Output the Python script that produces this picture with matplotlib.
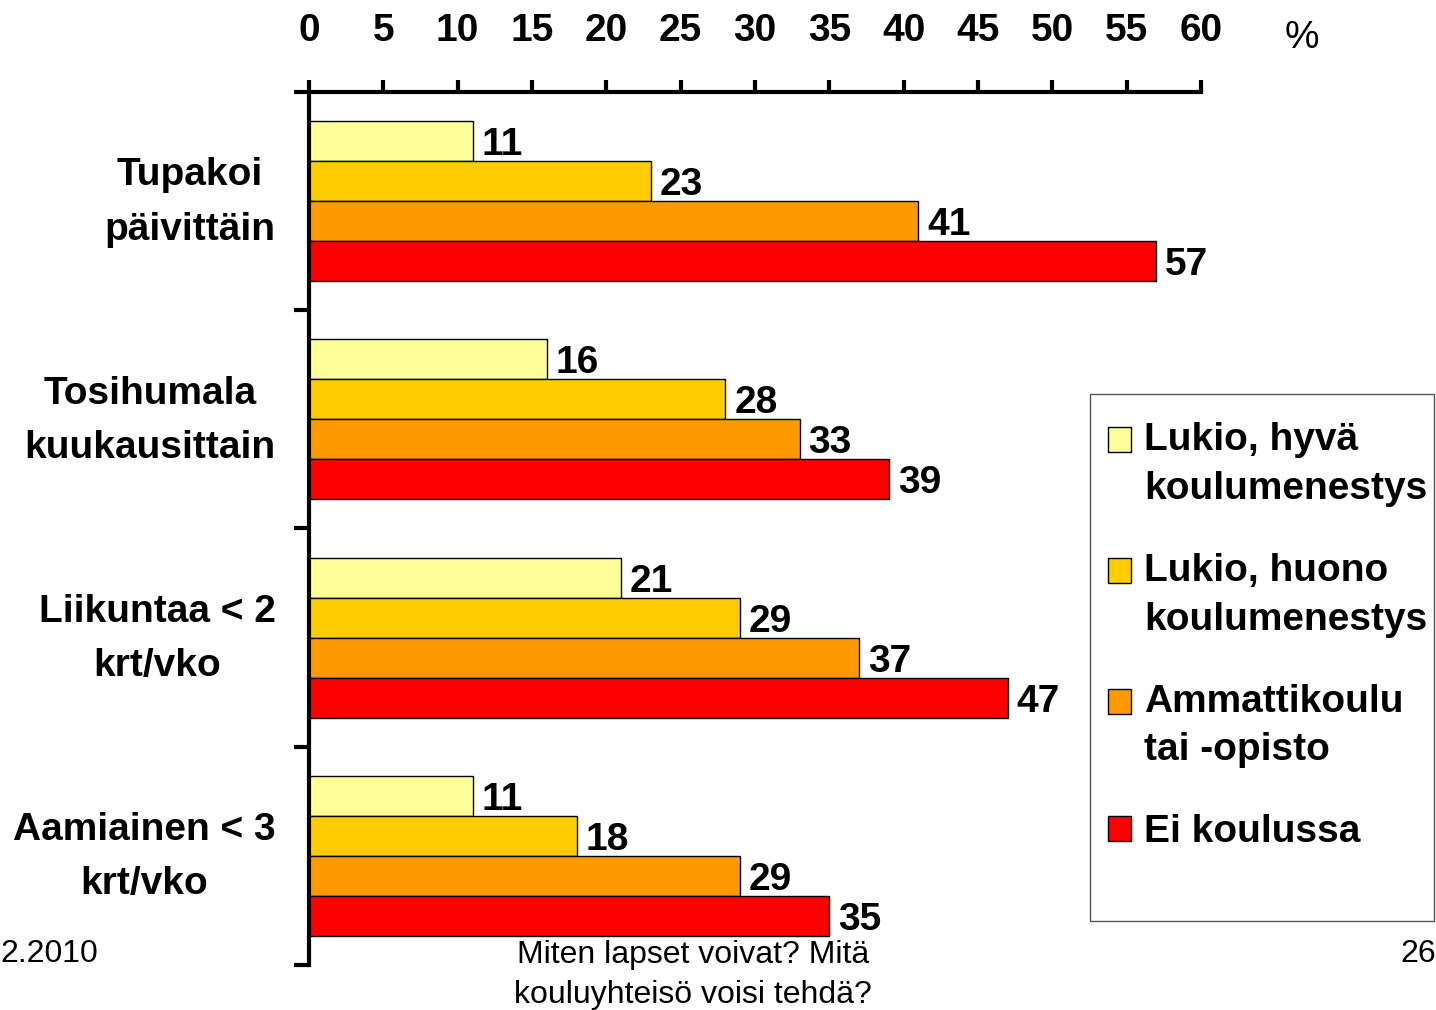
# Horizontal grouped bars: health habits by school track (percent)

import numpy as np
import matplotlib.pyplot as plt
from matplotlib.patches import Rectangle
from matplotlib.legend_handler import HandlerPatch

plt.rcParams['font.family'] = ['Liberation Sans', 'DejaVu Sans']

categories = ['Tupakoi\npäivittäin', 'Tosihumala\nkuukausittain',
              'Liikuntaa < 2\nkrt/vko', 'Aamiainen < 3\nkrt/vko']
series_names = ['Lukio, hyvä\nkoulumenestys', 'Lukio, huono\nkoulumenestys',
                'Ammattikoulu\ntai -opisto', 'Ei koulussa']
lukio_hyva = [11, 16, 21, 11]
lukio_huono = [23, 28, 29, 18]
ammattikoulu = [41, 33, 37, 29]
ei_koulussa = [57, 39, 47, 35]
colors = ['#FFFF99', '#FFCC00', '#FF9900', '#FF0000']
x_ticks = list(range(0, 61, 5))

series = [lukio_hyva, lukio_huono, ammattikoulu, ei_koulussa]

FS = 28

fig = plt.figure(figsize=(14.36, 10.10), dpi=100)
ax = fig.add_axes([0.2152, 0.0446, 0.8363 - 0.2152, 0.9089 - 0.0446])

y = np.arange(len(categories))
h = 0.1835
offsets = (np.arange(4) - 1.5) * h
for vals, off, col in zip(series, offsets, colors):
    ax.barh(y + off, vals, height=h, color=col, edgecolor='black', linewidth=1.0)
    for yy, v in zip(y + off, vals):
        ax.text(v + 0.6, yy, str(v), va='center_baseline', ha='left',
                fontsize=FS, fontweight='bold')

ax.set_xlim(0, 60)
ax.set_ylim(3.5, -0.5)

# x axis on top
ax.xaxis.tick_top()
ax.set_xticks(x_ticks)
ax.set_xticklabels([str(t) for t in x_ticks], fontsize=FS, fontweight='bold')
ax.tick_params(axis='x', direction='out', length=9, width=3, pad=22)

# y ticks at category boundaries, category names in between
ax.set_yticks(np.arange(-0.5, 4, 1.0))
ax.set_yticklabels([])
ax.tick_params(axis='y', which='major', direction='out', length=11, width=3)
for yy, cat in zip(y, categories):
    ax.annotate(cat, xy=(0, yy), xycoords=('axes fraction', 'data'),
                xytext=(-24, -1), textcoords='offset points',
                ha='right', va='center', multialignment='center',
                fontsize=FS, fontweight='bold', linespacing=1.66)

for s in ['right', 'bottom']:
    ax.spines[s].set_visible(False)
for s in ['left', 'top']:
    ax.spines[s].set_linewidth(3)

fig.text(1302 / 1436, 1 - 38 / 1010, '%', fontsize=FS, ha='center', va='center')

# legend: square marker sits next to the first line of each label
def patch_at_first_line(n_lines):
    shift = 18 * (n_lines - 1)
    def f(legend, orig_handle, xdescent, ydescent, width, height, fontsize):
        return Rectangle((-xdescent, -ydescent + shift), width, height)
    return f

proxies = [Rectangle((0, 0), 1, 1, facecolor=c, edgecolor='black', linewidth=1.0)
           for c in colors]
hmap = {p: HandlerPatch(patch_func=patch_at_first_line(name.count('\n') + 1))
        for p, name in zip(proxies, series_names)}

leg = fig.legend(proxies, series_names, handler_map=hmap, loc='upper left',
                 bbox_to_anchor=(1108 / 1436, 1 - 422 / 1010),
                 prop={'size': FS, 'weight': 'bold'}, frameon=False,
                 handlelength=0.6, handleheight=0.6, handletextpad=0.33,
                 labelspacing=1.18, borderpad=0, borderaxespad=0)
for t in leg.get_texts():
    t.set_linespacing(1.46)

fig.patches.append(Rectangle((1090 / 1436, 1 - 921 / 1010), 344 / 1436, 527 / 1010,
                             transform=fig.transFigure, fill=False,
                             edgecolor='#555555', linewidth=1.0))

# slide footer
fig.text(0.0, 1 - 954 / 1010, '2.2010', fontsize=23, ha='left', va='center')
fig.text(693 / 1436, 1 - 975 / 1010, 'Miten lapset voivat? Mitä\nkouluyhteisö voisi tehdä?',
         fontsize=23, ha='center', va='center', linespacing=1.4)
fig.text(1.0, 1 - 954 / 1010, '26', fontsize=23, ha='right', va='center')

fig.savefig('out.png', dpi=100)
